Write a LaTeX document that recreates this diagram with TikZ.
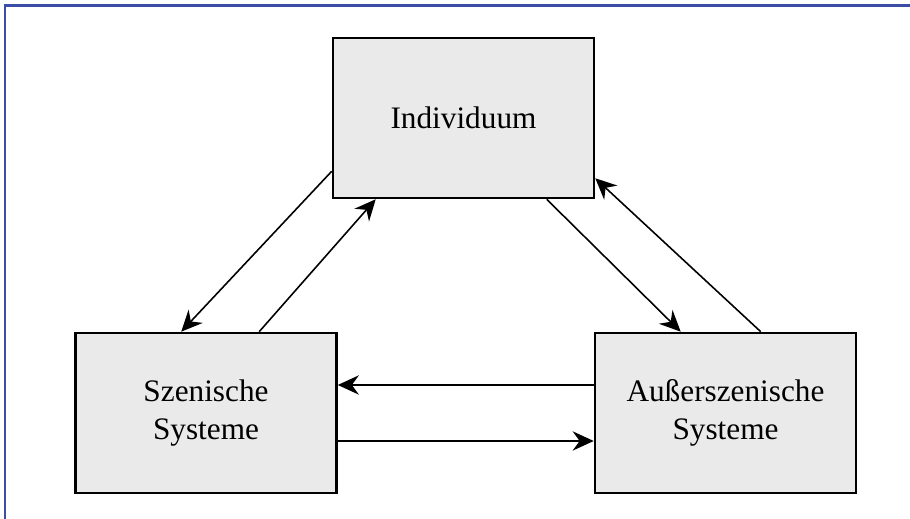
\documentclass[tikz,border=0pt]{standalone}
\usepackage{fontspec}
\setmainfont{Liberation Serif}
\usetikzlibrary{arrows.meta,calc}
\definecolor{framecolor}{RGB}{58,78,165}
\definecolor{boxfill}{RGB}{234,234,234}
\begin{document}
\begin{tikzpicture}
[x=0.02cm,y=0.02cm,
  boxdecorate/.style={shape=rectangle,draw,line width=1.5pt,fill=boxfill,
    minimum width=5.22cm,minimum height=3.2cm,inner sep=0pt,align=center,
    font=\fontsize{17.8}{21.6}\selectfont},%
  linedecorate/.style={-{Stealth[length=12pt,width=11pt,inset=4pt]},line width=0.9pt}]
\useasboundingbox (0,0) rectangle (910,519);
% frame
\draw[framecolor,line width=1.7pt] (5,0) -- (5,513) -- (910,513);
%%% systems
% boxes
\node (indiv) at (463.5,401) [boxdecorate] {Individuum};
\node (szen) at (206,106) [boxdecorate] {Szenische\\Systeme};
\node (ausz) at (725.5,106) [boxdecorate] {Außerszenische\\Systeme};
% arrows
\path
($(indiv.south west)+(0,28)$) edge[linedecorate] ($(szen.north west)+(107,0)$)
($(szen.north west)+(185,0)$) edge[linedecorate] ($(indiv.south west)+(44,0)$)
($(indiv.south west)+(215,0)$) edge[linedecorate] ($(ausz.north west)+(87,0)$)
($(ausz.north west)+(167,0)$) edge[linedecorate] ($(indiv.south east)+(0,21)$)
($(ausz.west)+(0,28)$) edge[linedecorate] ($(szen.east)+(0,28)$)
($(szen.east)+(0,-28)$) edge[linedecorate] ($(ausz.west)+(0,-28)$);
\end{tikzpicture}
\end{document}
